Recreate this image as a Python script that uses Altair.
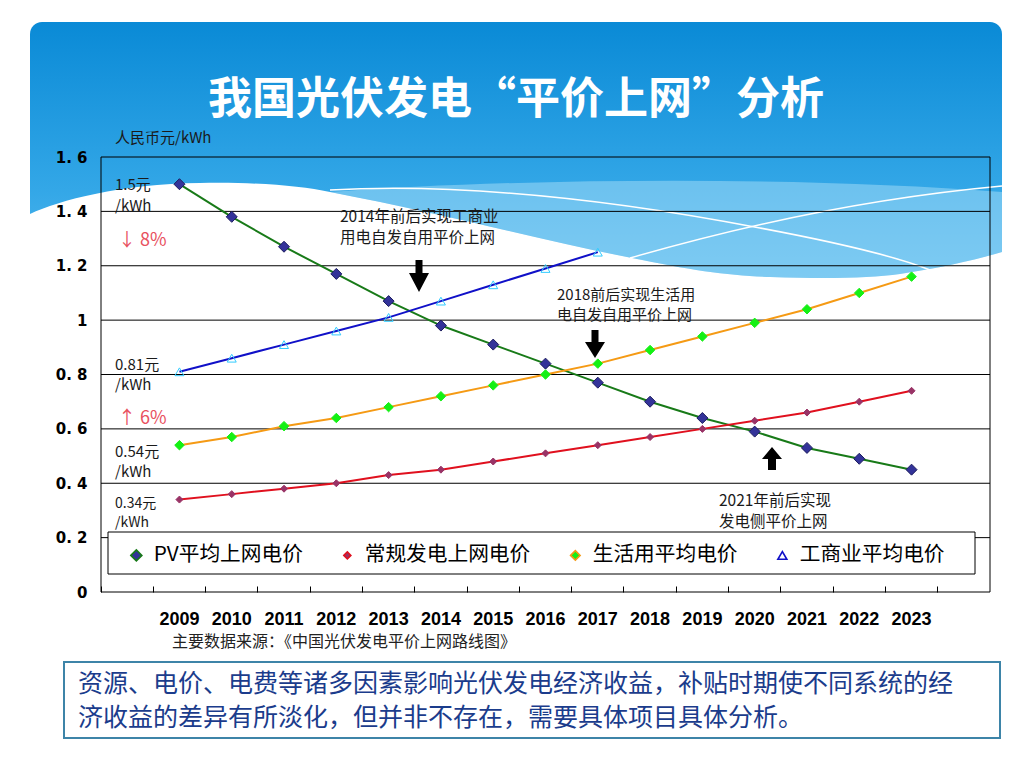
import altair as alt
import pandas as pd

# ---------------- data ----------------
years = [str(y) for y in range(2009, 2024)]
x_domain = [" "] + years + ["  "]

series_names = ["PV平均上网电价", "常规发电上网电价", "生活用平均电价", "工商业平均电价"]
pv_price = [1.50, 1.38, 1.27, 1.17, 1.07, 0.98, 0.91, 0.84, 0.77, 0.70, 0.64, 0.59, 0.53, 0.49, 0.45]
conventional_price = [0.34, 0.36, 0.38, 0.40, 0.43, 0.45, 0.48, 0.51, 0.54, 0.57, 0.60, 0.63, 0.66, 0.70, 0.74]
residential_price = [0.54, 0.57, 0.61, 0.64, 0.68, 0.72, 0.76, 0.80, 0.84, 0.89, 0.94, 0.99, 1.04, 1.10, 1.16]
commercial_price = [0.81, 0.86, 0.91, 0.96, 1.01, 1.07, 1.13, 1.19, 1.25]
y_ticks = [0, 0.2, 0.4, 0.6, 0.8, 1.0, 1.2, 1.4, 1.6]

# ---------------- styles ----------------
CJK = "Noto Sans CJK SC"
line_colors = ["#187a18", "#e0101e", "#f59a14", "#1010c8"]
marker_fills = ["#333399", "#993366", "#14f014", "rgba(0,0,0,0)"]
marker_strokes = ["#1c1c5e", "#993366", "#14f014", "#33ccff"]
marker_sizes = [121, 49, 90, 81]
marker_shapes = ["diamond", "diamond", "diamond", "triangle-up"]
# legend symbols: line + marker, in units of half the symbol width
legend_paths = [
    "M-1,0L-0.407,0M0.407,0L1,0M-0.407,0L0,-0.407L0.407,0L0,0.407Z",
    "M-1,0L-0.26,0M0.26,0L1,0M-0.26,0L0,-0.26L0.26,0L0,0.26Z",
    "M-1,0L-0.356,0M0.356,0L1,0M-0.356,0L0,-0.356L0.356,0L0,0.356Z",
    "M-1,0L1,0M0,-0.34L-0.34,0.26L0.34,0.26Z",
]

W, H = 889, 435

rows = []
for name, vals in zip(series_names, [pv_price, conventional_price, residential_price, commercial_price]):
    for yr, v in zip(years, vals):
        rows.append({"year": yr, "series": name, "marker": name, "value": v})
df = pd.DataFrame(rows)
one = pd.DataFrame({"k": [0]})

# ---------------- encodings ----------------
x_enc = alt.X(
    "year:O",
    scale=alt.Scale(type="band", domain=x_domain, paddingInner=0, paddingOuter=0),
    axis=alt.Axis(
        title=None, bandPosition=0, tickSize=6, offset=-6,
        domain=False, grid=False, labelAngle=0, labelFont="Liberation Sans",
        labelFontWeight="bold", labelFontSize=18, labelColor="black",
        tickColor="black", tickWidth=1, labelPadding=18, zindex=1,
    ),
)
y_scale = alt.Scale(domain=[0, 1.6], nice=False, zero=True)
y_axis = alt.Axis(
    title=None, values=y_ticks, ticks=False, domain=False, grid=False,
    labelExpr="datum.value == 0 ? '0' : datum.value == 1 ? '1' : replace(format(datum.value, '.1f'), '.', '. ')",
    labelFont="DejaVu Sans", labelFontWeight="bold", labelFontSize=15,
    labelColor="black", labelPadding=14, zindex=1,
)
y_enc = alt.Y("value:Q", scale=y_scale, axis=y_axis)

names_js = "[" + ",".join("'" + n + "'" for n in series_names) + "]"
paths_js = "[" + ",".join("'" + p + "'" for p in legend_paths) + "]"

line_legend = alt.Legend(
    title=None, orient="none", legendX=25, legendY=387.6, direction="horizontal",
    symbolType=alt.ExprRef(expr=paths_js + "[indexof(" + names_js + ", datum.value)]"),
    symbolFillColor=alt.ExprRef(expr="scale('fill', datum.value)"),
    symbolStrokeColor=alt.ExprRef(expr="scale('color', datum.value)"),
    symbolSize=729, symbolStrokeWidth=1.6, symbolOpacity=1,
    labelFont=CJK, labelFontSize=20.7, labelColor="black", labelOffset=7,
    labelLimit=400, columnPadding=34, padding=0, zindex=1,
)

base = alt.Chart(df)

lines = base.mark_line(strokeWidth=2).encode(
    x=x_enc, y=y_enc,
    color=alt.Color("series:N", scale=alt.Scale(domain=series_names, range=line_colors), legend=line_legend),
)
points = base.mark_point(filled=True, opacity=1, strokeWidth=1).encode(
    x=x_enc, y=y_enc,
    fill=alt.Fill("marker:N", scale=alt.Scale(domain=series_names, range=marker_fills), legend=None),
    stroke=alt.Stroke("marker:N", scale=alt.Scale(domain=series_names, range=marker_strokes), legend=None),
    shape=alt.Shape("marker:N", scale=alt.Scale(domain=series_names, range=marker_shapes), legend=None),
    size=alt.Size("marker:N", scale=alt.Scale(type="ordinal", domain=series_names, range=marker_sizes), legend=None),
)

grid = alt.Chart(pd.DataFrame({"value": y_ticks[1:-1]})).mark_rule(color="black", strokeWidth=1).encode(
    y=y_enc
)

# ---------------- decoration ----------------
def shape_at_origin(path, fill=None, stroke=None, sw=0, op=1.0):
    kw = dict(shape=path, size=4, opacity=op)
    if fill is not None:
        kw.update(filled=True, fill=fill, strokeWidth=0)
    else:
        kw.update(filled=False, stroke=stroke, strokeWidth=sw)
    return alt.Chart(one).mark_point(**kw).encode(x=alt.value(-101), y=alt.value(-157))

panel = alt.Chart(one).mark_rect(
    cornerRadius=12,
    fill=alt.LinearGradient(
        gradient="linear",
        stops=[alt.GradientStop(color="#0a8ad6", offset=0),
               alt.GradientStop(color="#33a7e7", offset=0.55),
               alt.GradientStop(color="#66c1f1", offset=1)],
        x1=0, x2=0, y1=0, y2=1,
    ),
).encode(x=alt.value(-71), x2=alt.value(901), y=alt.value(-135), y2=alt.value(170))

light_band = shape_at_origin(
    "M330,192 C520,178 800,176 1002,192 L1002,252 C975,260 940,268 900,274 "
    "C870,278 830,279 770,277 C730,276 690,270 632,258 C540,240 450,215 330,192 Z",
    fill="#a8ddf8", op=0.5,
)
white_wave = shape_at_origin(
    "M30,214 C60,200 120,184 200,183 C260,182 300,186 330,192 C450,215 540,240 632,258 "
    "C690,270 730,276 770,277 C830,279 870,278 900,274 C940,268 975,260 1002,252 "
    "L1002,345 L30,345 Z",
    fill="white",
)
white_line_a = shape_at_origin("M330,190 C480,182 640,205 760,228 C840,243 900,258 930,270", stroke="white", sw=1.5)
white_line_b = shape_at_origin("M630,258 C720,232 850,200 1002,186", stroke="white", sw=1.5)

frame = alt.Chart(one).mark_rect(fill="rgba(0,0,0,0)", stroke="black", strokeWidth=1).encode(
    x=alt.value(0), x2=alt.value(W), y=alt.value(0), y2=alt.value(H)
)
legend_box = alt.Chart(one).mark_rect(fill="white", stroke="black", strokeWidth=1).encode(
    x=alt.value(7), x2=alt.value(874), y=alt.value(375), y2=alt.value(417)
)
note_box = alt.Chart(one).mark_rect(fill="white", stroke="#3d84a8", strokeWidth=2).encode(
    x=alt.value(-37), x2=alt.value(899), y=alt.value(505), y2=alt.value(581)
)

def arrow(path, x, y):
    return alt.Chart(one).mark_point(shape=path, size=4, filled=True, fill="black", strokeWidth=0, opacity=1).encode(
        x=alt.value(x), y=alt.value(y)
    )

down_path = "M-3.5,-16L3.5,-16L3.5,-3L10,-3L0,16L-10,-3L-3.5,-3Z"
down_path2 = "M-3.5,-14L3.5,-14L3.5,-2L10,-2L0,14L-10,-2L-3.5,-2Z"
up_path = "M-4,11L4,11L4,0L10,0L0,-12L-10,0L-4,0Z"

def txt(s, x, y, size=15, color="#1a1a1a", align="left", weight="normal", font=CJK):
    return alt.Chart(one).mark_text(
        text=s, align=align, baseline="middle", fontSize=size, color=color, font=font, fontWeight=weight
    ).encode(x=alt.value(x), y=alt.value(y))

texts = [
    txt("我国光伏发电“平价上网”分析", 415, -56, size=44, color="white", align="center", weight="bold"),
    txt("人民币元/kWh", 14, -19, size=15),
    txt("1.5元", 14, 28), txt("/kWh", 14, 49),
    txt("↓ 8%", 17, 84, size=18, color="#e8505e"),
    txt("0.81元", 14, 208), txt("/kWh", 14, 228),
    txt("↑ 6%", 17, 262, size=18, color="#e8505e"),
    txt("0.54元", 14, 295), txt("/kWh", 14, 315),
    txt("0.34元", 14, 347, size=14), txt("/kWh", 14, 366, size=14),
    txt("2014年前后实现工商业", 239, 60, size=15.5),
    txt("用电自发自用平价上网", 239, 81, size=15.5),
    txt("2018前后实现生活用", 456, 138, size=15),
    txt("电自发自用平价上网", 456, 158, size=15),
    txt("2021年前后实现", 618, 344, size=15.5),
    txt("发电侧平价上网", 618, 365, size=15.5),
    txt("主要数据来源：《中国光伏发电平价上网路线图》", 71, 485, size=16, color="#222222"),
    txt("资源、电价、电费等诸多因素影响光伏发电经济收益，补贴时期使不同系统的经", -23, 527, size=25, color="#1b3c8c"),
    txt("济收益的差异有所淡化，但并非不存在，需要具体项目具体分析。", -23, 561, size=25, color="#1b3c8c"),
]

chart = alt.layer(
    panel, light_band, white_wave, white_line_a, white_line_b,
    grid, frame, lines, points, legend_box, note_box,
    arrow(down_path, 318, 119), arrow(down_path2, 494, 187), arrow(up_path, 671, 302),
    *texts,
).properties(
    width=W, height=H,
    padding={"left": 101, "top": 157, "right": 39, "bottom": 173},
    autosize=alt.AutoSizeParams(type="none"),
    background="white",
).configure_view(strokeWidth=0)

chart.save("out.html", embed_options={"renderer": "svg", "actions": False})
